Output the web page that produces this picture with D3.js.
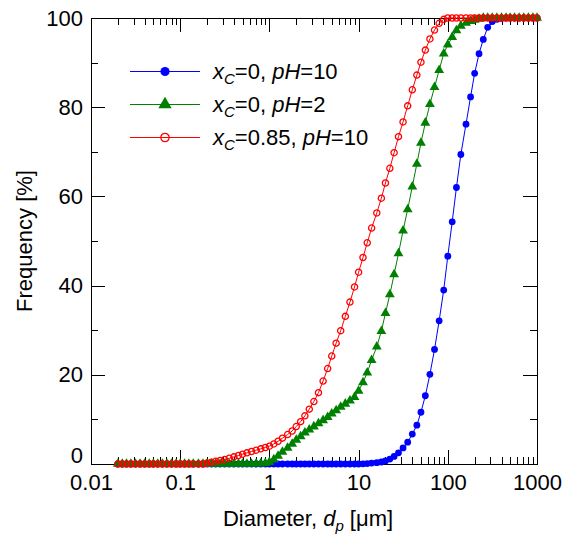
<!DOCTYPE html>
<html>
<head>
<meta charset="utf-8">
<script src="https://cdn.jsdelivr.net/npm/d3@7"></script>
<style>
  html, body { margin: 0; padding: 0; background: #fff; }
  svg { display: block; font-family: "Liberation Sans", Arial, sans-serif; }
  .axis path, .axis line { stroke: #000; stroke-width: 1; shape-rendering: crispEdges; }
  .axis text { fill: #000; font-size: 22px; font-family: "Liberation Sans", Arial, sans-serif; }
</style>
</head>
<body>
<svg id="chart" width="565" height="540"></svg>
<script>
// Particle diameter classes [µm] (R20 series, 20 classes per decade)
const diameters = [
  0.02, 0.0224, 0.025, 0.028, 0.0315, 0.0355, 0.04, 0.045, 0.05, 0.056,
  0.063, 0.071, 0.08, 0.09, 0.1, 0.112, 0.125, 0.14, 0.16, 0.18,
  0.2, 0.224, 0.25, 0.28, 0.315, 0.355, 0.4, 0.45, 0.5, 0.56,
  0.63, 0.71, 0.8, 0.9, 1, 1.12, 1.25, 1.4, 1.6, 1.8,
  2, 2.24, 2.5, 2.8, 3.15, 3.55, 4, 4.5, 5, 5.6,
  6.3, 7.1, 8, 9, 10, 11.2, 12.5, 14, 16, 18,
  20, 22.4, 25, 28, 31.5, 35.5, 40, 45, 50, 56,
  63, 71, 80, 90, 100, 112, 125, 140, 160, 180,
  200, 224, 250, 280, 315, 355, 400, 450, 500, 560,
  630, 710, 800, 900, 1000
];

// Cumulative frequency [%] for x_C = 0, pH = 10
const freqXc0pH10 = [
  0, 0, 0, 0, 0, 0, 0, 0, 0, 0,
  0, 0, 0, 0, 0, 0, 0, 0, 0, 0,
  0, 0, 0, 0, 0, 0, 0, 0, 0, 0,
  0, 0, 0, 0, 0, 0, 0, 0, 0, 0,
  0, 0, 0, 0, 0, 0, 0, 0, 0, 0,
  0, 0, 0, 0, 0, 0.05, 0.1, 0.2, 0.3, 0.45,
  0.7, 1.1, 1.7, 2.5, 3.6, 4.9, 6.7, 8.7, 11.6, 15.3,
  20.1, 25.7, 32.1, 39.0, 46.6, 54.3, 62.0, 69.4, 76.2, 82.3,
  87.6, 92.0, 95.2, 97.9, 99.2, 99.7, 99.9, 100, 100, 100,
  100, 100, 100, 100, 100
];

// Cumulative frequency [%] for x_C = 0, pH = 2
const freqXc0pH2 = [
  0, 0, 0, 0, 0, 0, 0, 0, 0, 0,
  0, 0, 0, 0, 0, 0, 0, 0, 0, 0,
  0, 0, 0, 0, 0, 0, 0, 0, 0, 0,
  0, 0.05, 0.1, 0.2, 0.4, 1.0, 1.8, 2.7, 3.6, 4.5,
  5.4, 6.2, 7.0, 7.7, 8.4, 9.1, 9.8, 10.5, 11.3, 12.0,
  12.8, 13.5, 14.2, 15.0, 16.4, 18.3, 20.5, 23.3, 26.3, 29.8,
  33.8, 38.0, 42.5, 47.2, 52.3, 57.1, 62.2, 67.3, 72.0, 76.5,
  80.7, 84.5, 88.3, 92.0, 94.0, 95.7, 97.2, 98.2, 98.9, 99.3,
  99.6, 99.8, 100, 100, 100, 100, 100, 100, 100, 100,
  100, 100, 100, 100, 100
];

// Cumulative frequency [%] for x_C = 0.85, pH = 10
const freqXc085pH10 = [
  0, 0, 0, 0, 0, 0, 0, 0, 0, 0,
  0, 0, 0, 0, 0, 0, 0, 0, 0, 0,
  0.2, 0.4, 0.6, 0.8, 1.0, 1.3, 1.6, 1.9, 2.2, 2.5,
  2.8, 3.1, 3.4, 3.7, 4.0, 4.5, 5.1, 5.8, 6.6, 7.4,
  8.4, 9.5, 10.8, 12.3, 14.0, 16.0, 18.6, 21.4, 24.2, 27.1,
  29.9, 33.1, 36.3, 39.7, 43.0, 46.3, 49.6, 52.9, 56.3, 59.6,
  63.0, 66.3, 69.8, 73.4, 76.7, 80.3, 83.9, 87.2, 90.1, 92.8,
  95.3, 97.3, 98.8, 99.7, 100, 100, 100, 100, 100, 100,
  100, 100, 100, 100, 100, 100, 100, 100, 100, 100,
  100, 100, 100, 100, 100
];

// Axis ticks
const xMajorTicks = [0.01, 0.1, 1, 10, 100, 1000];
const xTickLabels = ["0.01", "0.1", "1", "10", "100", "1000"];
const yMajorTicks = [0, 20, 40, 60, 80, 100];
const yMinorTicks = [10, 30, 50, 70, 90];

const svg = d3.select("#chart");
const plotLeft = 91, plotRight = 537, plotTop = 18, plotBottom = 464;

const x = d3.scaleLog().domain([0.01, 1000]).range([plotLeft, plotRight]);
const y = d3.scaleLinear().domain([0, 100]).range([plotBottom, plotTop]);

// Minor log ticks (2..9 in every decade)
const xMinorTicks = [];
xMajorTicks.slice(0, -1).forEach(d => {
  for (let m = 2; m <= 9; m++) xMinorTicks.push(d * m);
});

const majorLen = 14, minorLen = 7;

// Bottom axis with labels
svg.append("g").attr("class", "axis")
  .attr("transform", `translate(0,${plotBottom})`)
  .call(d3.axisBottom(x).tickValues(xMajorTicks)
    .tickFormat((d, i) => xTickLabels[i])
    .tickSize(-majorLen).tickSizeOuter(0).tickPadding(10));
svg.append("g").attr("class", "axis")
  .attr("transform", `translate(0,${plotBottom})`)
  .call(d3.axisBottom(x).tickValues(xMinorTicks).tickFormat("")
    .tickSize(-minorLen).tickSizeOuter(0))
  .select(".domain").remove();

// Top axis
svg.append("g").attr("class", "axis")
  .attr("transform", `translate(0,${plotTop})`)
  .call(d3.axisTop(x).tickValues(xMajorTicks).tickFormat("")
    .tickSize(-majorLen).tickSizeOuter(0));
svg.append("g").attr("class", "axis")
  .attr("transform", `translate(0,${plotTop})`)
  .call(d3.axisTop(x).tickValues(xMinorTicks).tickFormat("")
    .tickSize(-minorLen).tickSizeOuter(0))
  .select(".domain").remove();

// Left axis with labels
const yAxisG = svg.append("g").attr("class", "axis")
  .attr("transform", `translate(${plotLeft},0)`)
  .call(d3.axisLeft(y).tickValues(yMajorTicks).tickFormat(d3.format("d"))
    .tickSize(-majorLen).tickSizeOuter(0).tickPadding(8));
// lift the zero label clear of the x labels
yAxisG.selectAll(".tick text").filter(d => d === 0).attr("dy", "-0.05em");
svg.append("g").attr("class", "axis")
  .attr("transform", `translate(${plotLeft},0)`)
  .call(d3.axisLeft(y).tickValues(yMinorTicks).tickFormat("")
    .tickSize(-minorLen).tickSizeOuter(0))
  .select(".domain").remove();

// Right axis
svg.append("g").attr("class", "axis")
  .attr("transform", `translate(${plotRight},0)`)
  .call(d3.axisRight(y).tickValues(yMajorTicks).tickFormat("")
    .tickSize(-majorLen).tickSizeOuter(0));
svg.append("g").attr("class", "axis")
  .attr("transform", `translate(${plotRight},0)`)
  .call(d3.axisRight(y).tickValues(yMinorTicks).tickFormat("")
    .tickSize(-minorLen).tickSizeOuter(0))
  .select(".domain").remove();

// Axis titles
svg.append("text")
  .attr("transform", `translate(32,${(plotTop + plotBottom) / 2}) rotate(-90)`)
  .attr("text-anchor", "middle")
  .style("font-size", "22px")
  .text("Frequency [%]");

const xt = svg.append("text")
  .attr("x", (plotLeft + plotRight) / 2 - 6)
  .attr("y", 526)
  .attr("text-anchor", "middle")
  .style("font-size", "22px");
xt.append("tspan").text("Diameter, ");
xt.append("tspan").style("font-style", "italic").text("d");
xt.append("tspan").style("font-style", "italic").style("font-size", "15px")
  .attr("dy", 5).text("p");
xt.append("tspan").attr("dy", -5).text(" [\u03BCm]");

// Series
const series = [
  { name: "xc0pH10", values: freqXc0pH10, color: "#0000ff", marker: "dot" },
  { name: "xc0pH2", values: freqXc0pH2, color: "#008000", marker: "triangle" },
  { name: "xc085pH10", values: freqXc085pH10, color: "#ff0000", marker: "ring" }
];

const line = d3.line().x(d => x(d[0])).y(d => y(d[1]));

// scale = 1 for plot markers, larger for the legend keys
function drawMarker(g, kind, color, scale) {
  if (kind === "dot") {
    g.append("circle").attr("r", 3.4 * scale).attr("fill", color);
  } else if (kind === "triangle") {
    g.append("path")
      .attr("d", d3.symbol().type(d3.symbolTriangle).size(42 * scale * scale)())
      .attr("fill", color);
  } else {
    g.append("circle").attr("r", 3.1 * scale).attr("fill", "none")
      .attr("stroke", color).attr("stroke-width", 1.3);
  }
}

// draw order: blue at the back, then green, red on top
series.forEach(s => {
  const pts = diameters.map((d, i) => [d, s.values[i]]);
  const g = svg.append("g").attr("class", "series-" + s.name);
  g.append("path").datum(pts)
    .attr("fill", "none").attr("stroke", s.color).attr("stroke-width", 1)
    .attr("d", line);
  g.selectAll("g.pt").data(pts).join("g").attr("class", "pt")
    .attr("transform", d => `translate(${x(d[0])},${y(d[1])})`)
    .each(function () { drawMarker(d3.select(this), s.marker, s.color, 1); });
});

// Legend
const legendRows = [
  { color: "#0000ff", marker: "dot", xc: "0", ph: "10" },
  { color: "#008000", marker: "triangle", xc: "0", ph: "2" },
  { color: "#ff0000", marker: "ring", xc: "0.85", ph: "10" }
];
const legend = svg.append("g").attr("class", "legend");
legendRows.forEach((r, i) => {
  const ly = 71.5 + i * 33;
  const row = legend.append("g").attr("transform", `translate(0,${ly})`);
  row.append("line").attr("x1", 130).attr("x2", 200).attr("y1", 0).attr("y2", 0)
    .attr("stroke", r.color).attr("stroke-width", 1);
  const m = row.append("g").attr("transform", "translate(165,0)");
  drawMarker(m, r.marker, r.color, 1.35);
  const t = row.append("text").attr("x", 213).attr("y", 7.5)
    .style("font-size", "22px");
  t.append("tspan").style("font-style", "italic").text("x");
  t.append("tspan").style("font-style", "italic").style("font-size", "15px")
    .attr("dy", 5).text("C");
  t.append("tspan").attr("dy", -5).text("=" + r.xc + ", ");
  t.append("tspan").style("font-style", "italic").text("pH");
  t.append("tspan").text("=" + r.ph);
});
</script>
</body>
</html>
